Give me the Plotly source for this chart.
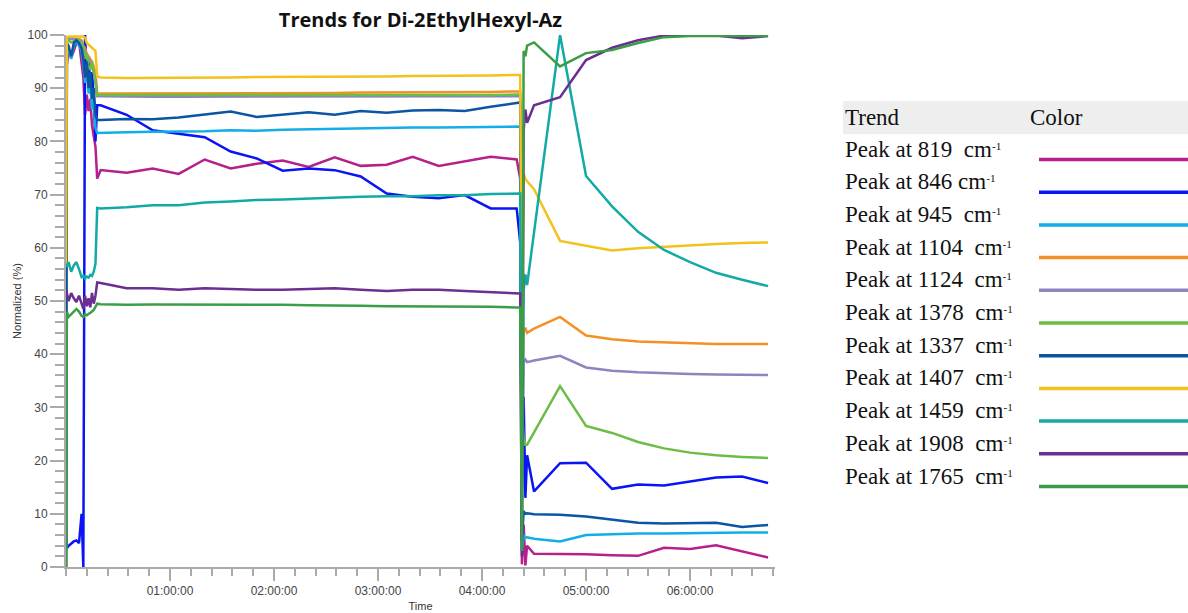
import pandas as pd
import plotly.graph_objects as go

# ---- sample times (minutes from start of run) ----
START_MIN = [0, 0.5, 1.5, 3, 4.5, 6, 7.5, 9, 10, 11, 12, 13, 14, 15, 16, 17, 18]
RUN_MIN = [20, 35, 50, 65, 80, 95, 110, 125, 140, 155, 170, 185, 200, 215, 230, 245, 260]
SHIFT_MIN = [262, 263, 264, 265, 266, 270]
AFTER_MIN = [285, 300, 315, 330, 345, 360, 375, 390, 405]

TICK_HOURS = [1, 2, 3, 4, 5, 6]
TICK_LABELS = ["01:00:00", "02:00:00", "03:00:00", "04:00:00", "05:00:00", "06:00:00"]

# ---- normalized peak intensities (%) ----
P819 = ([96, 94.5, 97.0, 95.7, 97.0, 98.5, 98.8, 95.0, 92.0, 85.0, 88.8, 85.7, 88.0, 83.0, 80.6, 79.0, 73.0]
        + [74.6, 74.1, 74.9, 73.9, 76.6, 74.9, 75.8, 76.4, 75.2, 77.0, 75.4, 75.6, 77.1, 75.4, 76.2, 77.1, 76.6]
        + [73.0, 0.5, 8.0, 0.3, 4.0, 2.5]
        + [2.5, 2.4, 2.2, 2.1, 3.6, 3.4, 4.1, 3.0, 1.8])
P846 = ([9.0, 3.5, 4.0, 4.5, 4.8, 5.0, 4.5, 10.0, 0.0, 100.0, 92.0, 96.0, 90.0, 93.0, 88.0, 80.0, 86.8]
        + [86.8, 85.0, 82.1, 81.5, 80.8, 78.1, 76.8, 74.5, 74.9, 74.6, 73.4, 70.2, 69.6, 69.3, 69.9, 67.4, 67.4]
        + [61.0, 15.0, 32.0, 13.0, 21.0, 14.2]
        + [19.5, 19.6, 14.7, 15.5, 15.3, 16.0, 16.8, 17.0, 15.8])
P945 = ([0, 98.0, 97.5, 95.5, 98.0, 98.8, 98.0, 97.0, 94.5, 91.0, 94.0, 89.0, 91.0, 86.0, 87.5, 82.5, 81.6]
        + [81.6, 81.7, 81.8, 81.8, 81.9, 82.1, 82.0, 82.2, 82.3, 82.4, 82.4, 82.5, 82.6, 82.6, 82.7, 82.7, 82.8]
        + [82.8, 3.0, 6.0, 5.5, 5.6, 5.3]
        + [4.8, 6.0, 6.2, 6.3, 6.3, 6.4, 6.4, 6.5, 6.5])
P1104 = ([0, 99.2, 99.5, 99.5, 99.4, 99.3, 99.3, 99.0, 98.0, 97.5, 96.5, 96.0, 95.5, 95.0, 94.0, 93.0, 89.0]
         + [89.0, 89.0, 89.0, 89.0, 89.0, 89.1, 89.1, 89.1, 89.1, 89.1, 89.2, 89.2, 89.2, 89.2, 89.3, 89.3, 89.4]
         + [89.4, 20.0, 44.0, 45.0, 44.0, 44.8]
         + [47.0, 43.5, 42.8, 42.4, 42.2, 42.0, 41.9, 41.9, 41.9])
P1124 = ([0, 99.0, 99.3, 99.3, 99.2, 99.2, 99.0, 98.8, 97.5, 97.0, 96.0, 95.5, 95.0, 94.0, 93.0, 91.5, 88.5]
         + [88.5, 88.4, 88.4, 88.4, 88.4, 88.4, 88.4, 88.4, 88.4, 88.4, 88.4, 88.4, 88.4, 88.5, 88.5, 88.5, 88.5]
         + [88.5, 15.0, 38.5, 39.0, 38.5, 38.8]
         + [39.7, 37.5, 36.9, 36.6, 36.4, 36.3, 36.2, 36.2, 36.1])
P1378 = ([0, 98.8, 99.0, 98.6, 98.9, 99.0, 99.0, 98.5, 97.5, 95.5, 96.5, 94.0, 93.5, 95.0, 92.5, 91.0, 88.7]
         + [88.7, 88.6, 88.6, 88.6, 88.6, 88.6, 88.6, 88.6, 88.6, 88.6, 88.6, 88.6, 88.6, 88.7, 88.7, 88.7, 88.8]
         + [88.8, 30.0, 24.0, 23.0, 23.0, 25.3]
         + [34.0, 26.5, 25.2, 23.5, 22.3, 21.5, 21.0, 20.7, 20.5])
P1337 = ([0, 98.5, 98.0, 96.0, 98.5, 99.0, 98.5, 97.5, 95.5, 92.0, 95.0, 90.0, 93.0, 88.0, 90.0, 85.0, 84.0]
         + [84.0, 84.2, 84.15, 84.5, 85.0, 85.6, 84.6, 85.1, 85.5, 85.0, 85.7, 85.4, 85.8, 85.9, 85.7, 86.5, 87.3]
         + [87.3, 5.0, 10.5, 10.0, 10.1, 9.9]
         + [9.8, 9.5, 8.9, 8.3, 8.2, 8.2, 8.3, 7.5, 7.9])
P1407 = ([57.0, 99.6, 99.7, 99.7, 99.7, 99.7, 99.7, 99.7, 99.7, 99.5, 98.5, 98.2, 97.8, 97.6, 97.3, 97.0, 92.2]
         + [92.0, 91.9, 91.9, 91.9, 92.0, 92.0, 92.1, 92.1, 92.1, 92.2, 92.2, 92.2, 92.3, 92.3, 92.3, 92.4, 92.5]
         + [92.5, 44.0, 74.0, 73.0, 72.5, 71.0]
         + [61.3, 60.4, 59.5, 59.9, 60.2, 60.5, 60.7, 60.9, 61.0])
P1459 = ([57.0, 56.5, 57.3, 55.5, 56.7, 57.3, 56.0, 54.5, 54.8, 54.2, 54.6, 54.4, 54.9, 54.7, 55.5, 57.0, 67.5]
         + [67.4, 67.6, 68.0, 68.0, 68.5, 68.7, 69.0, 69.1, 69.3, 69.5, 69.6, 69.7, 69.7, 69.9, 69.9, 70.1, 70.2]
         + [70.2, 8.0, 52.0, 55.0, 53.0, 62.9]
         + [100.0, 73.5, 67.8, 63.0, 59.6, 57.3, 55.3, 54.0, 52.8])
P1908 = ([52.0, 51.5, 50.0, 51.5, 50.5, 49.8, 51.0, 49.5, 48.5, 51.0, 49.0, 50.5, 48.8, 51.5, 49.5, 51.0, 53.5]
         + [53.4, 52.4, 52.4, 52.1, 52.4, 52.2, 52.1, 52.1, 52.2, 52.4, 52.1, 51.9, 52.1, 52.1, 51.9, 51.7, 51.4]
         + [51.4, 2.0, 82.0, 86.0, 83.5, 86.8]
         + [88.3, 95.3, 97.6, 99.0, 99.9, 99.9, 99.9, 99.4, 99.8])
P1765 = ([0, 48.0, 47.0, 47.5, 47.8, 48.5, 48.0, 47.2, 47.0, 47.5, 47.3, 47.5, 47.8, 48.0, 48.3, 49.0, 49.5]
         + [49.4, 49.3, 49.35, 49.35, 49.35, 49.3, 49.35, 49.3, 49.2, 49.2, 49.1, 49.0, 49.0, 49.0, 48.9, 48.9, 48.8]
         + [48.8, 3.0, 97.0, 96.0, 98.0, 98.6]
         + [94.1, 96.6, 97.2, 98.5, 99.6, 99.8, 99.8, 99.8, 99.8])

PEAK_NAMES = ["819  ", "846 ", "945  ", "1104  ", "1124  ", "1378  ", "1337  ", "1407  ", "1459  ", "1908  ", "1765  "]
PEAK_SERIES = [P819, P846, P945, P1104, P1124, P1378, P1337, P1407, P1459, P1908, P1765]
PEAK_COLORS = ["#b5208a", "#0a14f5", "#12aee8", "#f49126", "#8d85bf", "#6bbd45",
               "#0b55a3", "#f4c21c", "#13aaa5", "#6b2e91", "#3b9e47"]

base = pd.Timestamp("2000-01-01 00:00:00")
minutes = START_MIN + RUN_MIN + SHIFT_MIN + AFTER_MIN
times = base + pd.to_timedelta(minutes, unit="min")

fig = go.Figure()
for name, vals, col in zip(PEAK_NAMES, PEAK_SERIES, PEAK_COLORS):
    fig.add_trace(go.Scatter(x=times, y=vals, mode="lines", name=name.strip(),
                             line=dict(color=col, width=2.5), showlegend=False))

# plot area geometry in pixels
L, R, T, B = 66, 775, 35, 567
W_FIG, H_FIG = 1188, 613


def px_x(px):
    return (px - L) / (R - L)


def px_y(py):
    return (B - py) / (B - T)


axis_grey = "#aaaaaa"
fig.update_layout(
    width=W_FIG, height=H_FIG,
    margin=dict(l=L, r=W_FIG - R, t=T, b=H_FIG - B, pad=0),
    paper_bgcolor="white", plot_bgcolor="white",
    title=dict(text="<b>Trends for Di-2EthylHexyl-Az</b>", x=0.5, xref="paper",
               y=1 - 20 / H_FIG, yref="container", yanchor="middle", xanchor="center",
               font=dict(family="Open Sans", size=20, color="#111111")),
    xaxis=dict(
        type="date", automargin=False,
        range=[base, base + pd.Timedelta(minutes=409)],
        tickmode="array",
        tickvals=[base + pd.Timedelta(hours=h) for h in TICK_HOURS],
        ticktext=TICK_LABELS,
        ticks="outside", ticklen=12, tickwidth=1.5, tickcolor=axis_grey,
        minor=dict(dtick=12 * 60 * 1000, tick0=base, ticks="outside", ticklen=7,
                   tickwidth=1.5, tickcolor=axis_grey, showgrid=False),
        showline=True, linecolor=axis_grey, linewidth=2,
        showgrid=False, zeroline=False,
        tickfont=dict(family="Liberation Sans", size=12, color="#444444"),
        title=dict(text="Time", standoff=5,
                   font=dict(family="Liberation Sans", size=11, color="#333333")),
    ),
    yaxis=dict(
        range=[0, 100], automargin=False,
        tickmode="linear", tick0=0, dtick=10,
        ticks="outside", ticklen=14, tickwidth=1.5, tickcolor=axis_grey,
        minor=dict(dtick=2, ticks="outside", ticklen=9, tickwidth=1.5,
                   tickcolor=axis_grey, showgrid=False),
        showline=True, linecolor=axis_grey, linewidth=2,
        showgrid=False, zeroline=False,
        tickfont=dict(family="Liberation Sans", size=12, color="#444444"),
        title=dict(text="Normalized (%)", standoff=4,
                   font=dict(family="Liberation Sans", size=11, color="#333333")),
    ),
)

# ---- colour key table to the right of the plot ----
key_font = dict(family="Liberation Serif", size=23, color="#111111")
shapes = [dict(type="rect", xref="paper", yref="paper",
               x0=px_x(843), x1=px_x(1188), y0=px_y(134), y1=px_y(101),
               fillcolor="#eeeeee", line=dict(width=0), layer="below")]
annotations = [
    dict(text="Trend", x=px_x(843), y=px_y(117), xref="paper", yref="paper",
         xanchor="left", yanchor="middle", showarrow=False, font=key_font),
    dict(text="Color", x=px_x(1028), y=px_y(117), xref="paper", yref="paper",
         xanchor="left", yanchor="middle", showarrow=False, font=key_font),
]
row_pitch = 32.7
for i, (name, col) in enumerate(zip(PEAK_NAMES, PEAK_COLORS)):
    text_y = 149 + i * row_pitch
    line_y = 159.5 + i * row_pitch
    annotations.append(dict(
        text=f"Peak at {name}cm<span style='font-size:16px'><sup>-1</sup></span>",
        x=px_x(843), y=px_y(text_y),
        xref="paper", yref="paper", xanchor="left", yanchor="middle", showarrow=False,
        font=key_font))
    shapes.append(dict(type="line", xref="paper", yref="paper",
                       x0=px_x(1039), x1=px_x(1188), y0=px_y(line_y), y1=px_y(line_y),
                       line=dict(color=col, width=3.5)))

fig.update_layout(shapes=shapes, annotations=annotations)
fig.write_html("out.html")
